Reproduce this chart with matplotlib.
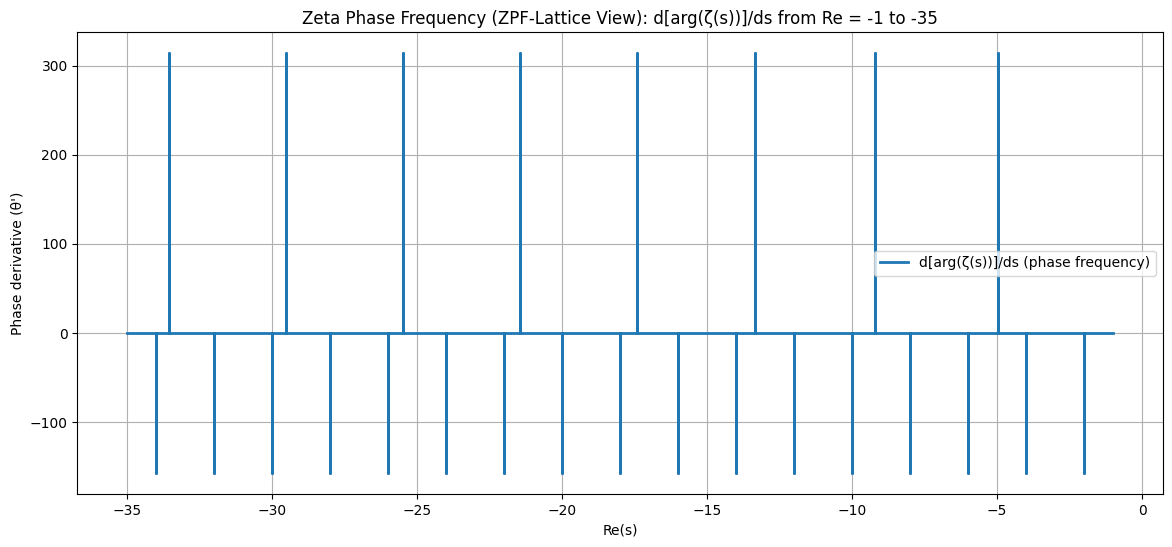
"""Zeta phase frequency: d[arg(zeta(s))]/ds along the negative real axis."""

import matplotlib
matplotlib.use("Agg")
import matplotlib.pyplot as plt

OUTPUT_PNG = "out.png"

# range of Re(s)
RE_START = -35.0
RE_END = -1.0

# upward phase jumps
up_positions = [-33.53, -29.51, -25.47, -21.46, -17.41, -13.33, -9.21, -4.97]
up_heights = [314, 314, 314, 314, 314, 314, 314, 314]

# downward spikes at trivial zeros
down_positions = [-34, -32, -30, -28, -26, -24, -22, -20, -18,
                  -16, -14, -12, -10, -8, -6, -4, -2]
down_heights = [-157] * len(down_positions)


def main():
    spikes = sorted(zip(up_positions + down_positions, up_heights + down_heights))
    xs = [RE_START]
    ys = [0]
    for pos, h in spikes:
        xs += [pos, pos, pos]
        ys += [0, h, 0]
    xs.append(RE_END)
    ys.append(0)

    fig, ax = plt.subplots(figsize=(11.72, 5.47), dpi=100)
    fig.subplots_adjust(left=0.0661, right=0.9919, top=0.941, bottom=0.0969)
    ax.plot(xs, ys, color="#1f77b4", linewidth=2.0,
            label="d[arg(ζ(s))]/ds (phase frequency)")
    ax.set_title("Zeta Phase Frequency (ZPF-Lattice View): d[arg(ζ(s))]/ds from Re = -1 to -35")
    ax.set_xlabel("Re(s)")
    ax.set_ylabel("Phase derivative (θ')")
    ax.grid(True)
    ax.legend(loc="center right")

    fig.savefig(OUTPUT_PNG, dpi=100)


if __name__ == "__main__":
    main()
